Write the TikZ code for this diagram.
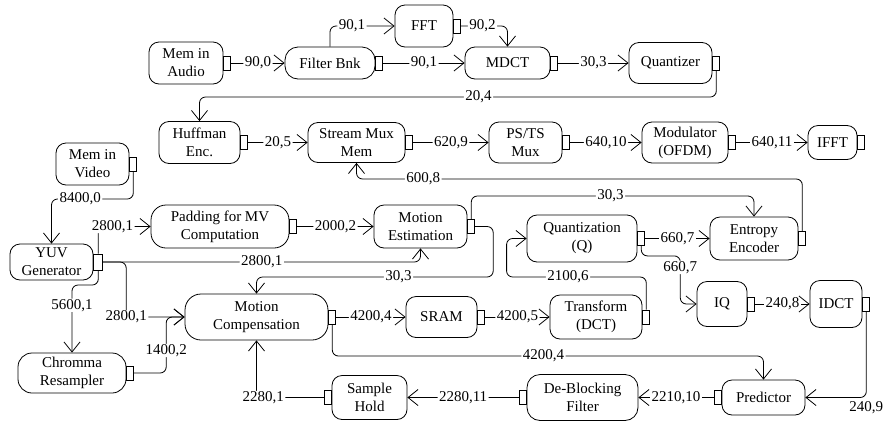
\documentclass[tikz,border=0pt]{standalone}
\usepackage{fontspec}
\setmainfont{Liberation Serif}
\newfontfamily\diagfont{Liberation Serif}
\usetikzlibrary{arrows.meta}
\begin{document}
\begin{tikzpicture}[x=1pt,y=-1pt,
  blk/.style={draw, rounded corners=10pt, align=center, inner sep=0pt,
    font=\diagfont\fontsize{15}{18}\selectfont, line width=0.8pt},
  port/.style={draw, fill=white, minimum width=7pt, minimum height=14pt,
    inner sep=0pt, line width=0.8pt},
  conn/.style={line width=0.8pt, rounded corners=6pt,
    -{Straight Barb[length=10pt,width=16pt]}},
  lab/.style={fill=white, inner xsep=1.5pt, inner ysep=0.5pt,
    font=\diagfont\fontsize{15}{18}\selectfont}]
\useasboundingbox (0,0) rectangle (884,424);

% ---------------- audio chain ----------------
\node[blk, minimum width=74pt, minimum height=42pt] (memA) at (186,63) {Mem in\\Audio};
\node[blk, rounded corners=13pt, minimum width=90pt, minimum height=32pt] (filt) at (330,63) {Filter Bnk};
\node[blk, minimum width=58pt, minimum height=42pt] (fft) at (424,26) {FFT};
\node[blk, minimum width=85pt, minimum height=32pt] (mdct) at (507.5,63) {MDCT};
\node[blk, minimum width=83pt, minimum height=41pt] (quant) at (670.5,63) {Quantizer};

\node[blk, minimum width=81pt, minimum height=42pt] (huff) at (199.5,142.5) {Huffman\\Enc.};
\node[blk, minimum width=97pt, minimum height=40pt] (smm) at (356.5,142.5) {Stream Mux\\Mem};
\node[blk, minimum width=73pt, minimum height=41pt] (psts) at (525.5,142.5) {PS/TS\\Mux};
\node[blk, minimum width=86pt, minimum height=41pt] (mod) at (685,142.5) {Modulator\\(OFDM)};
\node[blk, minimum width=49pt, minimum height=34pt] (ifft) at (832.5,142.5) {IFFT};

% ---------------- video chain ----------------
\node[blk, minimum width=73pt, minimum height=42pt] (memV) at (92.5,164) {Mem in\\Video};
\node[blk, minimum width=83pt, minimum height=36pt] (yuv) at (51.5,262) {YUV\\Generator};
\node[blk, rounded corners=15pt, minimum width=138pt, minimum height=43pt] (pad) at (220,226.5) {Padding for MV\\Computation};
\node[blk, minimum width=93pt, minimum height=43pt] (me) at (420.5,226.5) {Motion\\Estimation};
\node[blk, minimum width=110pt, minimum height=47pt] (q) at (582,238.5) {Quantization\\(Q)};
\node[blk, minimum width=88pt, minimum height=43pt] (ee) at (754,238.5) {Entropy\\Encoder};
\node[blk, rounded corners=14pt, minimum width=108pt, minimum height=40pt] (chr) at (72,373) {Chromma\\Resampler};
\node[blk, rounded corners=16pt, minimum width=143pt, minimum height=46pt] (mc) at (256.5,317) {Motion\\Compensation};
\node[blk, minimum width=71pt, minimum height=41pt] (sram) at (441.5,317) {SRAM};
\node[blk, minimum width=92pt, minimum height=44pt] (tr) at (596,317) {Transform\\(DCT)};
\node[blk, minimum width=50pt, minimum height=45pt] (iq) at (722,304) {IQ};
\node[blk, minimum width=52pt, minimum height=47pt] (idct) at (836,304) {IDCT};
\node[blk, minimum width=83pt, minimum height=35pt] (pred) at (763.5,397.5) {Predictor};
\node[blk, rounded corners=13pt, minimum width=111pt, minimum height=46pt] (db) at (582.5,397.5) {De-Blocking\\Filter};
\node[blk, minimum width=75pt, minimum height=44pt] (sh) at (369.5,397.5) {Sample\\Hold};

% ---------------- ports ----------------
\foreach \n in {memA,filt,fft,mdct,quant,huff,smm,psts,mod,ifft,
                memV,pad,me,q,ee,chr,mc,sram,tr,iq,idct}
  \node[port, anchor=west] (\n-p) at (\n.east) {};
\node[port, anchor=west, minimum width=9pt, minimum height=16pt] (yuv-p) at (yuv.east) {};
\foreach \n in {pred,db,sh}
  \node[port, anchor=east] (\n-p) at (\n.west) {};

% ---------------- audio connectors ----------------
\draw[conn] (memA-p.east) -- node[lab]{90,0} (filt.west);
\draw[conn] (filt.north) |- node[lab, pos=0.67]{90,1} (fft.west);
\draw[conn] (filt-p.east) -- node[lab]{90,1} (mdct.west);
\draw[conn] (fft-p.east) -| node[lab, pos=0.23]{90,2} (mdct.north);
\draw[conn] (mdct-p.east) -- node[lab]{30,3} (quant.west);
\draw[conn] (quant-p.south) -- (quant-p.south |- 0,97) -| node[lab, pos=0.23]{20,4} (huff.north);
\draw[conn] (huff-p.east) -- node[lab]{20,5} (smm.west);
\draw[conn] (smm-p.east) -- node[lab]{620,9} (psts.west);
\draw[conn] (psts-p.east) -- node[lab]{640,10} (mod.west);
\draw[conn] (mod-p.east) -- node[lab]{640,11} (ifft.west);
\draw[conn] (ee-p.north) -- (ee-p.north |- 0,179) -| node[lab, pos=0.425]{600,8} (smm.south);

% ---------------- video connectors ----------------
\draw[conn] (memV-p.south) -- (memV-p.south |- 0,199) -| node[lab, pos=0.325]{8400,0} (yuv.north);
\draw[conn] (yuv-p.north) |- node[lab, pos=0.635]{2800,1} (pad.west);
\draw[conn] (yuv-p.east) -| node[lab, pos=0.25]{2800,1} (me.south);
\draw[conn] (yuv-p.east) -- ++(23,0) |- node[lab, pos=0.5]{2800,1} (mc.west);
\draw[conn] (yuv-p.south) -- (yuv-p.south |- 0,285) -| node[lab, pos=0.65]{5600,1} (chr.north);
\draw[conn] (chr-p.east) -- ++(32,0) |- node[lab, pos=0.2]{1400,2} (mc.west);
\draw[conn] (sh-p.west) -| node[lab, pos=0.45]{2280,1} (mc.south);
\draw[conn] (pad-p.east) -- node[lab]{2000,2} (me.west);
\draw[conn] (me-p.north) -- (me-p.north |- 0,196) -| node[lab, pos=0.246]{30,3} (ee.north);
\draw[conn] (me-p.east) -- ++(18,0) |- node[lab, pos=0.7]{30,3} (mc.north |- 0,277) -- (mc.north);
\draw[conn] (q-p.east) -- node[lab]{660,7} (ee.west);
\draw[conn] (q-p.south) -- ++(0,10) -- ++(39,0) |- node[lab, pos=0.12]{660,7} (iq.west);
\draw[conn] (iq-p.east) -- node[lab]{240,8} (idct.west);
\draw[conn] (idct-p.south) |- node[lab, fill=none, pos=0.5, anchor=north, yshift=-3pt]{240,9} (pred.east);
\draw[conn] (pred-p.west) -- node[lab]{2210,10} (db.east);
\draw[conn] (db-p.west) -- node[lab]{2280,11} (sh.east);
\draw[conn] (mc-p.east) -- node[lab]{4200,4} (sram.west);
\draw[conn] (sram-p.east) -- node[lab]{4200,5} (tr.west);
\draw[conn] (tr-p.north) |- node[lab, pos=0.78]{2100,6} ([xshift=-20pt]q.west |- 0,277) |- (q.west);
\draw[conn] (mc-p.south) |- node[lab, pos=0.745]{4200,4} (pred.north |- 0,356) -- (pred.north);
\end{tikzpicture}
\end{document}
